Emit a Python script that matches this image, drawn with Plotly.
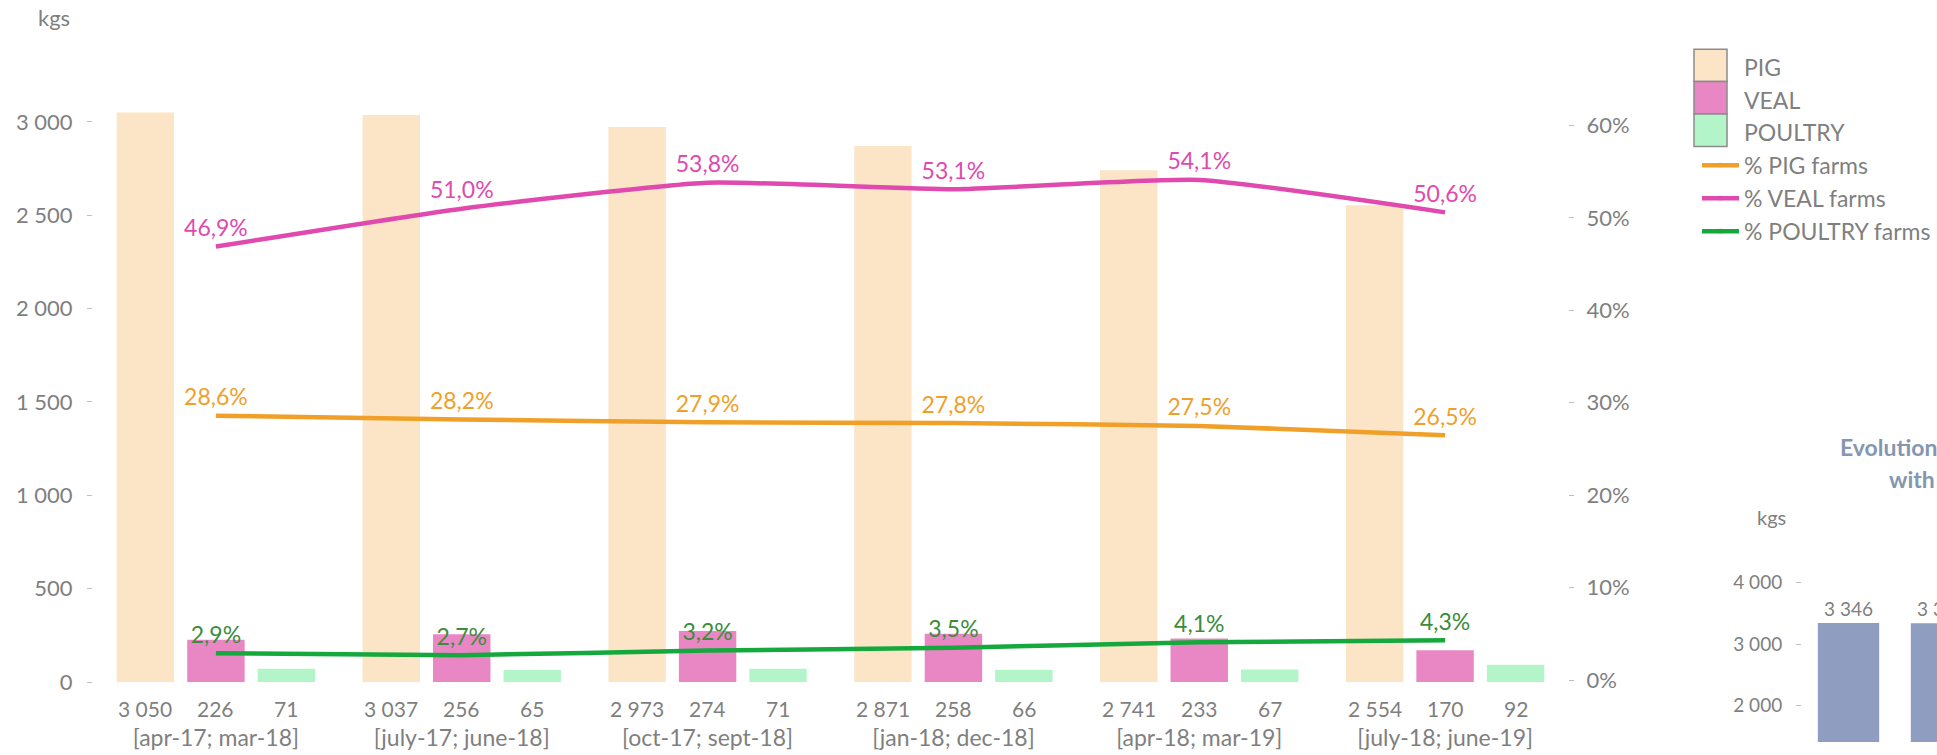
import plotly.graph_objects as go

# ---------------- data ----------------
periods = ["[apr-17; mar-18]", "[july-17; june-18]", "[oct-17; sept-18]",
           "[jan-18; dec-18]", "[apr-18; mar-19]", "[july-18; june-19]"]
pig = [3050, 3037, 2973, 2871, 2741, 2554]
veal = [226, 256, 274, 258, 233, 170]
poultry = [71, 65, 71, 66, 67, 92]
pig_pct = [28.6, 28.2, 27.9, 27.8, 27.5, 26.5]
veal_pct = [46.9, 51.0, 53.8, 53.1, 54.1, 50.6]
poultry_pct = [2.9, 2.7, 3.2, 3.5, 4.1, 4.3]

# second (cropped) chart on the right
periods2 = ["[apr-17; mar-18]", "[july-17; june-18]"]
totals2 = [3346, 3340]

left_ticks = [0, 500, 1000, 1500, 2000, 2500, 3000]
right_ticks = [0, 10, 20, 30, 40, 50, 60]
right_labels = [f"{v}%" for v in right_ticks]
ticks2 = [2000, 3000, 4000]

# ---------------- style ----------------
W, H = 1937, 755
FONT = "Lato"
GREY = "#7F7F7F"
TICK = "#BFBFBF"
C_PIG, C_VEAL, C_POUL = "#FBE5C6", "#E987C5", "#B3F5C8"
L_PIG, L_VEAL, L_POUL = "#F0A028", "#E04AAE", "#15A83C"
T_POUL = "#3C8C3C"

x0, x1 = 93, 1568          # main plot area (px)
ybot, ytop = 694, 76       # pixel of y=0 and top of plot
px_per_kg = 0.19
ymax = (ybot - ytop) / px_per_kg

# right (percentage) axis: 0 % at px 696, 60 % at px 128
pct_zero_px, pct60_px = 696, 128
px_per_pct = (pct_zero_px - pct60_px) / 60
y2_lo = -(pct_zero_px - ybot) / px_per_pct
y2_hi = 60 + (pct60_px - ytop) / px_per_pct

bargap, bargroupgap = 0.14, 0.185

bar_series = [("PIG", pig, C_PIG), ("VEAL", veal, C_VEAL), ("POULTRY", poultry, C_POUL)]

fig = go.Figure()
for name, vals, col in bar_series:
    fig.add_bar(x=periods, y=vals, name=name, marker=dict(color=col, line=dict(width=0)),
                xaxis="x", yaxis="y", showlegend=False)

# legend entries for the bar series (their boxes are drawn as shapes below)
for name, vals, col in bar_series:
    fig.add_scatter(x=[None], y=[None], name=name, mode="markers", xaxis="x", yaxis="y",
                    marker=dict(color="rgba(0,0,0,0)", size=1), hoverinfo="skip")

for name, vals, col, tcol in [("% PIG farms", pig_pct, L_PIG, L_PIG),
                              ("% VEAL farms", veal_pct, L_VEAL, L_VEAL),
                              ("% POULTRY farms", poultry_pct, L_POUL, T_POUL)]:
    fig.add_scatter(x=periods, y=vals, name=name, xaxis="x", yaxis="y2",
                    mode="lines+markers+text", texttemplate="%{y:.1f}%",
                    textposition="top center", textfont=dict(color=tcol, size=23, family=FONT),
                    line=dict(color=col, width=4.5, shape="spline", smoothing=0.5),
                    marker=dict(size=6, opacity=0))

fig.add_bar(x=periods2, y=totals2, xaxis="x3", yaxis="y3", width=0.66,
            marker=dict(color="#8E9DC0", line=dict(width=0)), showlegend=False,
            texttemplate="%{y:,d}", textposition="outside",
            textfont=dict(color=GREY, size=19, family=FONT))

# value labels under the bars
cat_px = (x1 - x0) / len(periods)
slot = cat_px * (1 - bargap) / 3
annotations = []
for gi, p in enumerate(periods):
    for si, series in enumerate([pig, veal, poultry]):
        annotations.append(dict(x=p, xref="x", y=0, yref="y", yanchor="top", xanchor="center",
                                xshift=(si - 1) * slot, yshift=-12, showarrow=False,
                                text=f"{series[gi]:,}".replace(",", " "),
                                font=dict(color=GREY, size=21, family=FONT)))

annotations += [
    dict(x=54 / W, y=1 - 18 / H, xref="paper", yref="paper", xanchor="center", yanchor="middle",
         text="kgs", showarrow=False, font=dict(color=GREY, size=22, family=FONT)),
    dict(x=1771 / W, y=1 - 526 / H, xref="paper", yref="paper", xanchor="center", yanchor="middle",
         text="kgs", showarrow=False, font=dict(color=GREY, size=20, family=FONT)),
    dict(x=1838 / W, y=1 - 455 / H, xref="paper", yref="paper", xanchor="left", yanchor="middle",
         text="<b>Evolution of the quantities sold</b>", showarrow=False,
         font=dict(color="#8497B0", size=23, family=FONT)),
    dict(x=1887 / W, y=1 - 487 / H, xref="paper", yref="paper", xanchor="left", yanchor="middle",
         text="<b>with the farms</b>", showarrow=False,
         font=dict(color="#8497B0", size=23, family=FONT)),
]

# legend boxes for the bar series
shapes = []
box_top, box_h, box_l, box_r = 50, 33, 1694, 1727
for i, (name, vals, col) in enumerate(bar_series):
    shapes.append(dict(type="rect", xref="paper", yref="paper",
                       x0=box_l / W, x1=box_r / W,
                       y0=1 - (box_top + (i + 1) * box_h) / H, y1=1 - (box_top + i * box_h) / H,
                       fillcolor=col, line=dict(color="#8C8C8C", width=1.5), layer="above"))

axis_common = dict(showgrid=False, zeroline=False, showline=False)

# second chart geometry
y3_zero = 843
y3_px = 62.5 / 1000
y3_lo = (y3_zero - H) / y3_px
y3_top_px = 555
y3_hi = (y3_zero - y3_top_px) / y3_px
x3_left = 1802

fig.update_layout(
    width=W, height=H, margin=dict(l=0, r=0, t=0, b=0),
    paper_bgcolor="white", plot_bgcolor="white",
    font=dict(family=FONT, color=GREY, size=22),
    separators=", ",
    barmode="group", bargap=bargap, bargroupgap=bargroupgap,
    showlegend=True,
    legend=dict(x=1697 / W, y=1 - 46 / H, xanchor="left", yanchor="top",
                font=dict(size=23, color=GREY, family=FONT),
                traceorder="normal", itemwidth=37,
                bgcolor="rgba(0,0,0,0)"),
    xaxis=dict(domain=[x0 / W, x1 / W], anchor="y", ticks="", tickfont=dict(size=23, color=GREY),
               ticklabelstandoff=40, **axis_common),
    yaxis=dict(domain=[(H - ybot) / H, (H - ytop) / H], anchor="x", range=[0, ymax],
               tickvals=left_ticks, tickformat=",d", ticks="outside", ticklen=5,
               tickcolor=TICK, ticklabelstandoff=10, tickfont=dict(size=22, color=GREY),
               **axis_common),
    yaxis2=dict(overlaying="y", side="right", anchor="x", range=[y2_lo, y2_hi],
                tickvals=right_ticks, ticktext=right_labels, ticks="outside", ticklen=5,
                tickcolor=TICK, ticklabelstandoff=8, tickfont=dict(size=22, color=GREY),
                **axis_common),
    xaxis3=dict(domain=[x3_left / W, 1], anchor="y3", range=[-0.5, -0.5 + (W - x3_left) / 93],
                showticklabels=False, ticks="", **axis_common),
    yaxis3=dict(domain=[0, (H - y3_top_px) / H], anchor="x3", range=[y3_lo, y3_hi],
                tickvals=ticks2, tickformat=",d", ticks="outside", ticklen=5,
                tickcolor=TICK, ticklabelstandoff=10, tickfont=dict(size=19, color=GREY),
                **axis_common),
    annotations=annotations,
    shapes=shapes,
)

fig.write_html("out.html", config={"displayModeBar": False},
               post_script="document.body.style.margin='0';document.body.style.overflow='hidden';")
